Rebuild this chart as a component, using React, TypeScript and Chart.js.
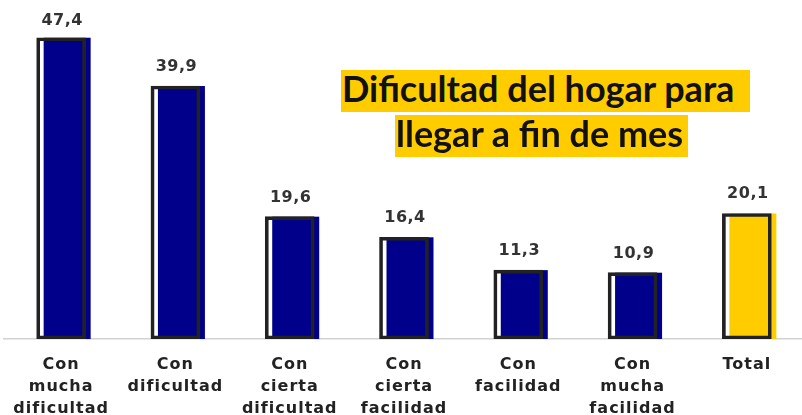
import React, { useEffect, useRef } from "react";
import { Chart, registerables } from "chart.js";

Chart.register(...registerables);

const categories: (string | string[])[] = [
  ["Con", "mucha", "dificultad"],
  ["Con", "dificultad"],
  ["Con", "cierta", "dificultad"],
  ["Con", "cierta", "facilidad"],
  ["Con", "facilidad"],
  ["Con", "mucha", "facilidad"],
  "Total",
];
const values: number[] = [47.4, 39.9, 19.6, 16.4, 11.3, 10.9, 20.1];
const barColors: string[] = [
  "#00008B",
  "#00008B",
  "#00008B",
  "#00008B",
  "#00008B",
  "#00008B",
  "#FFCC00",
];
const titleLines: string[] = ["Dificultad del hogar para ", "llegar a fin de mes"];

const fmt = (v: number) => v.toFixed(1).replace(".", ",");

const shadowBarPlugin = {
  id: "shadowBars",
  beforeDraw(chart: any) {
    chart.ctx.letterSpacing = "1px";
  },
  beforeDatasetsDraw(chart: any) {
    const ctx = chart.ctx;
    const meta = chart.getDatasetMeta(0);
    ctx.save();
    meta.data.forEach((el: any, i: number) => {
      const { x, y, base, width } = el.getProps(["x", "y", "base", "width"], true);
      const left = x - width / 2 + 7;
      const right = x + width / 2 + 5;
      ctx.fillStyle = barColors[i];
      ctx.fillRect(left, y, right - left, base - y);
    });
    ctx.restore();
  },
  afterDatasetsDraw(chart: any) {
    const ctx = chart.ctx;
    const meta = chart.getDatasetMeta(0);
    ctx.save();
    ctx.letterSpacing = "0.5px";
    ctx.font = "bold 16px 'DejaVu Sans'";
    ctx.fillStyle = "#333333";
    ctx.textAlign = "center";
    ctx.textBaseline = "alphabetic";
    meta.data.forEach((el: any, i: number) => {
      const { x, y } = el.getProps(["x", "y"], true);
      ctx.fillText(fmt(values[i]), x + 1, Math.max(y - 15, 25));
    });
    ctx.restore();
  },
  afterDraw(chart: any) {
    chart.ctx.letterSpacing = "0px";
  },
};

export default function App() {
  const canvasRef = useRef<HTMLCanvasElement | null>(null);

  useEffect(() => {
    if (!canvasRef.current) return;
    const chart = new Chart(canvasRef.current, {
      type: "bar",
      data: {
        labels: categories,
        datasets: [
          {
            label: "Dificultad",
            data: values,
            backgroundColor: "rgba(0,0,0,0)",
            borderColor: "#222222",
            borderWidth: 3,
            borderSkipped: false,
            barThickness: 49,
            base: 0.6,
          },
        ],
      },
      options: {
        responsive: false,
        animation: false,
        devicePixelRatio: 1,
        layout: { padding: { left: 4, right: 2, top: 21, bottom: 0 } },
        plugins: {
          legend: { display: false },
          tooltip: { enabled: false },
          title: { display: false },
        },
        scales: {
          x: {
            grid: { display: false, drawTicks: false },
            border: { display: true, color: "#d2d2d2", width: 1.5 },
            ticks: {
              autoSkip: false,
              maxRotation: 0,
              minRotation: 0,
              padding: 15,
              color: "#222222",
              font: { family: "'DejaVu Sans'", size: 16, weight: "bold", lineHeight: 22 / 16 },
            },
            afterFit: (s: any) => {
              s.height = 76;
            },
          },
          y: {
            display: false,
            min: 0.6,
            max: 50,
          },
        },
      },
      plugins: [shadowBarPlugin],
    });
    return () => chart.destroy();
  }, []);

  const boxStyle: React.CSSProperties = {
    position: "absolute",
    background: "#FFCC00",
    color: "#111111",
    fontFamily: "Lato, sans-serif",
    fontWeight: 700,
    fontSize: "36px",
    lineHeight: "36px",
    height: "42px",
    whiteSpace: "pre",
    paddingLeft: "1px",
    boxSizing: "border-box",
    overflow: "hidden",
  };

  return (
    <div
      style={{
        position: "fixed",
        left: 0,
        top: 0,
        width: 802,
        height: 415,
        overflow: "hidden",
        background: "#ffffff",
      }}
    >
      <canvas ref={canvasRef} width={806} height={415} style={{ display: "block" }} />
      <div style={{ ...boxStyle, left: 341, top: 70, width: 409 }}>{titleLines[0]}</div>
      <div style={{ ...boxStyle, left: 395, top: 115, width: 293 }}>{titleLines[1]}</div>
    </div>
  );
}
